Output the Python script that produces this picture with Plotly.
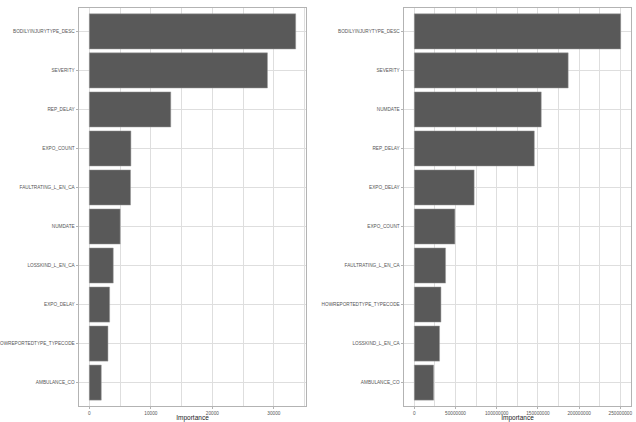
import plotly.graph_objects as go

# Left panel data
left_features = ["BODILYINJURYTYPE_DESC", "SEVERITY", "REP_DELAY", "EXPO_COUNT",
                 "FAULTRATING_L_EN_CA", "NUMDATE", "LOSSKIND_L_EN_CA", "EXPO_DELAY",
                 "HOWREPORTEDTYPE_TYPECODE", "AMBULANCE_CO"]
left_importance = [33550, 28960, 13240, 6760, 6700, 5020, 3890, 3300, 3030, 1945]
left_ticks = [0, 10000, 20000, 30000]

# Right panel data
right_features = ["BODILYINJURYTYPE_DESC", "SEVERITY", "NUMDATE", "REP_DELAY",
                  "EXPO_DELAY", "EXPO_COUNT", "FAULTRATING_L_EN_CA",
                  "HOWREPORTEDTYPE_TYPECODE", "LOSSKIND_L_EN_CA", "AMBULANCE_CO"]
right_importance = [250.4e6, 186.7e6, 154.0e6, 145.6e6, 72.6e6, 49.2e6, 37.9e6,
                    32.3e6, 30.6e6, 23.4e6]
right_ticks = [0, 50000000, 100000000, 150000000, 200000000, 250000000]

W, H = 636, 422
FONT = "Liberation Sans"
GRID = "#DEDEDE"
BORDER = "#B3B3B3"
BAR = "#595959"

fig = go.Figure()
fig.add_trace(go.Bar(x=left_importance, y=left_features, orientation="h",
                     marker=dict(color=BAR, line=dict(color="#9a9a9a", width=0.5)),
                     width=0.9, xaxis="x", yaxis="y", showlegend=False))
fig.add_trace(go.Bar(x=right_importance, y=right_features, orientation="h",
                     marker=dict(color=BAR, line=dict(color="#9a9a9a", width=0.5)),
                     width=0.9, xaxis="x2", yaxis="y2", showlegend=False))

ydom = [1 - 406 / H, 1 - 8 / H]


def xaxis(dom, mx, ticks, minor, anchor):
    return dict(domain=dom, anchor=anchor, range=[-0.05 * mx, 1.05 * mx],
                tickvals=ticks, ticktext=[str(t) for t in ticks],
                showgrid=True, gridcolor=GRID, gridwidth=0.8,
                minor=dict(dtick=minor, tick0=0, showgrid=True, gridcolor=GRID, gridwidth=0.5),
                ticks="outside", ticklen=2, tickcolor=BORDER, tickwidth=0.6,
                tickfont=dict(size=4.7, color="#555555", family=FONT),
                showline=True, linecolor=BORDER, linewidth=0.8, mirror=True,
                zeroline=False, automargin=False,
                title=dict(text="Importance", font=dict(size=6.5, color="#1a1a1a", family=FONT), standoff=4),
                fixedrange=True)


def yaxis(cats, anchor):
    return dict(domain=ydom, anchor=anchor, type="category",
                categoryorder="array", categoryarray=list(reversed(cats)),
                range=[-0.6, len(cats) - 0.4],
                showgrid=True, gridcolor=GRID, gridwidth=0.8,
                ticks="outside", ticklen=2.5, tickcolor=BORDER, tickwidth=0.6,
                tickfont=dict(size=4.7, color="#555555", family=FONT),
                showline=True, linecolor=BORDER, linewidth=0.8, mirror=True,
                zeroline=False, automargin=False, fixedrange=True)


fig.update_layout(
    template="none",
    width=W, height=H,
    margin=dict(l=0, r=0, t=0, b=0, pad=0),
    paper_bgcolor="white", plot_bgcolor="white",
    bargap=0.1,
    xaxis=xaxis([79 / W, 306 / W], 33550, left_ticks, 5000, "y"),
    yaxis=yaxis(left_features, "x"),
    xaxis2=xaxis([404 / W, 631 / W], 250.4e6, right_ticks, 25000000, "y2"),
    yaxis2=yaxis(right_features, "x2"),
    font=dict(family=FONT, color="#1a1a1a"),
)

fig.write_html("out.html")
